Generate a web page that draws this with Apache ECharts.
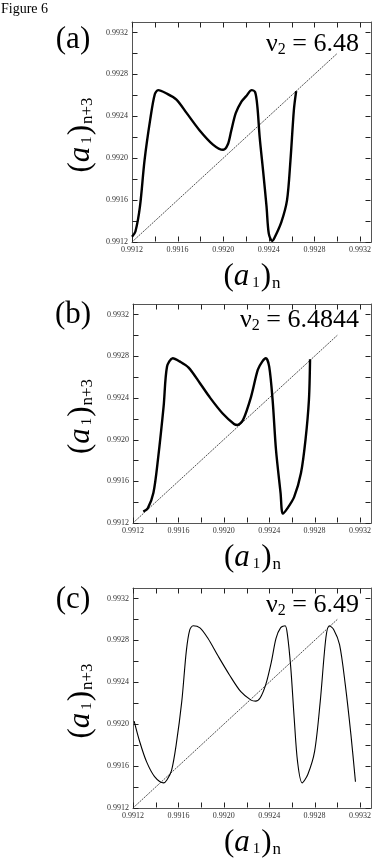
<!DOCTYPE html>
<html>
<head>
<meta charset="utf-8">
<title>Figure 6</title>
<script src="https://cdn.jsdelivr.net/npm/echarts@6/dist/echarts.min.js"></script>
<style>
  html, body { margin: 0; padding: 0; background: #fff; }
  #main { width: 374px; height: 863px; }
</style>
</head>
<body>
<div id="main"></div>
<script>
// axis range shared by the three panels
var tickMin = 0.9912;
var tickMax = 0.9933;
var tickStep = 0.0002;
// tick positions drawn on all four sides of each frame
var tickValues = [0.9912, 0.9914, 0.9916, 0.9918, 0.9920, 0.9922, 0.9924, 0.9926, 0.9928, 0.9930, 0.9932];

var panelLabels = ['(a)', '(b)', '(c)'];
var nuValues = ['6.48', '6.4844', '6.49'];

// diagonal (a1)n+3 = (a1)n
var diagX = [0.9912, 0.9930];
var diagY = [0.9912, 0.9930];

// panel (a)  nu2 = 6.48
var xA = [0.99120, 0.99123, 0.99127, 0.99131, 0.99136, 0.99140, 0.99143, 0.99150, 0.99159, 0.99168,
          0.99179, 0.99191, 0.99200, 0.99204, 0.99207, 0.99211, 0.99216, 0.99220, 0.99225, 0.99228,
          0.99230, 0.99232, 0.99235, 0.99238, 0.99240, 0.99243, 0.99245, 0.99251, 0.99256, 0.99259,
          0.99262, 0.99264];
var yA = [0.99125, 0.99130, 0.99154, 0.99198, 0.99237, 0.99261, 0.99265, 0.99262, 0.99256, 0.99243,
          0.99227, 0.99213, 0.99208, 0.99213, 0.99226, 0.99243, 0.99254, 0.99259, 0.99265, 0.99263,
          0.99249, 0.99220, 0.99188, 0.99154, 0.99128, 0.99121, 0.99124, 0.99139, 0.99160, 0.99198,
          0.99246, 0.99264];

// panel (b)  nu2 = 6.4844
var xB = [0.99129, 0.99133, 0.99138, 0.99142, 0.99147, 0.99150, 0.99155, 0.99161, 0.99169, 0.99179,
          0.99188, 0.99199, 0.99209, 0.99212, 0.99217, 0.99224, 0.99230, 0.99234, 0.99237, 0.99240,
          0.99243, 0.99246, 0.99250, 0.99252, 0.99256, 0.99262, 0.99268, 0.99272, 0.99275, 0.99276];
var yB = [0.99131, 0.99134, 0.99149, 0.99181, 0.99232, 0.99270, 0.99278, 0.99275, 0.99269, 0.99254,
          0.99240, 0.99225, 0.99215, 0.99214, 0.99219, 0.99241, 0.99267, 0.99275, 0.99278, 0.99270,
          0.99238, 0.99190, 0.99149, 0.99129, 0.99134, 0.99145, 0.99168, 0.99200, 0.99238, 0.99277];

// panel (c)  nu2 = 6.49
var xC = [0.99121, 0.99126, 0.99132, 0.99139, 0.99147, 0.99150, 0.99154, 0.99158, 0.99163, 0.99167,
          0.99170, 0.99173, 0.99179, 0.99186, 0.99195, 0.99205, 0.99215, 0.99224, 0.99228, 0.99232,
          0.99237, 0.99242, 0.99246, 0.99250, 0.99254, 0.99256, 0.99259, 0.99262, 0.99265, 0.99269,
          0.99274, 0.99280, 0.99285, 0.99290, 0.99293, 0.99297, 0.99302, 0.99307, 0.99312, 0.99316];
var yC = [0.99203, 0.99183, 0.99164, 0.99150, 0.99144, 0.99147, 0.99156, 0.99180, 0.99222, 0.99270,
          0.99290, 0.99294, 0.99292, 0.99282, 0.99265, 0.99247, 0.99231, 0.99223, 0.99222, 0.99225,
          0.99238, 0.99260, 0.99282, 0.99292, 0.99294, 0.99286, 0.99254, 0.99206, 0.99164, 0.99144,
          0.99152, 0.99174, 0.99222, 0.99283, 0.99294, 0.99290, 0.99276, 0.99238, 0.99190, 0.99145];

var curvesX = [xA, xB, xC];
var curvesY = [yA, yB, yC];
var curveWidth = [2.4, 2.4, 1.1];

var grids = [
  { left: 132, top: 22, width: 240, height: 220 },
  { left: 133, top: 304, width: 239, height: 219 },
  { left: 133, top: 588, width: 239, height: 220 }
];

var serif = '"Liberation Serif", "DejaVu Serif", serif';

function zip(xs, ys) {
  return xs.map(function (x, i) { return [x, ys[i]]; });
}

function tickLabel(v) {
  var r = (v - tickMin) / tickStep;
  var k = Math.round(r);
  if (Math.abs(r - k) > 0.01) return '';
  return k % 2 === 0 ? v.toFixed(4) : '';
}

var nameRich = {
  p: { fontSize: 31, fontFamily: serif, fill: '#000', lineHeight: 34 },
  a: { fontSize: 31, fontFamily: serif, fontStyle: 'italic', fill: '#000', lineHeight: 34, padding: [0, 3, 0, 0] },
  s: { fontSize: 15, fontFamily: serif, fill: '#000', padding: [12, 1, 0, 0] },
  n: { fontSize: 17, fontFamily: serif, fill: '#000', padding: [14, 0, 0, 1] }
};

function axis(gridIndex, position, labels) {
  return {
    type: 'value',
    gridIndex: gridIndex,
    position: position,
    min: tickMin,
    max: tickMax,
    interval: tickStep,
    axisLine: { show: true, onZero: false, lineStyle: { color: '#555' } },
    axisTick: { show: false },
    splitLine: { show: false },
    axisLabel: {
      show: labels,
      showMaxLabel: false,
      fontSize: 8,
      fontFamily: serif,
      color: '#333',
      margin: 4,
      formatter: tickLabel
    }
  };
}

// inward ticks on all four sides, placed through the panel's own axes
function renderTicks(params, api) {
  var v = api.value(0);
  var cs = params.coordSys;
  var px = Math.round(api.coord([v, tickMin])[0]) + 0.5;
  var py = Math.round(api.coord([tickMin, v])[1]) + 0.5;
  var x0 = Math.round(cs.x) + 0.5, x1 = Math.round(cs.x + cs.width) - 0.5;
  var y0 = Math.round(cs.y) + 0.5, y1 = Math.round(cs.y + cs.height) - 0.5;
  var st = { stroke: '#222', lineWidth: 1 };
  return {
    type: 'group',
    children: [
      { type: 'line', shape: { x1: px, y1: y1, x2: px, y2: y1 - 5 }, style: st },
      { type: 'line', shape: { x1: px, y1: y0, x2: px, y2: y0 + 5 }, style: st },
      { type: 'line', shape: { x1: x0, y1: py, x2: x0 + 5, y2: py }, style: st },
      { type: 'line', shape: { x1: x1, y1: py, x2: x1 - 5, y2: py }, style: st }
    ]
  };
}

var xAxes = [], yAxes = [], series = [];
for (var i = 0; i < 3; i++) {
  xAxes.push(axis(i, 'bottom', true));
  xAxes.push(axis(i, 'top', false));
  yAxes.push(axis(i, 'left', true));
  yAxes.push(axis(i, 'right', false));

  series.push({
    type: 'custom',
    xAxisIndex: 2 * i,
    yAxisIndex: 2 * i,
    data: tickValues.map(function (v) { return [v]; }),
    renderItem: renderTicks,
    silent: true,
    clip: false
  });
  series.push({
    type: 'line',
    xAxisIndex: 2 * i,
    yAxisIndex: 2 * i,
    data: zip(diagX, diagY),
    symbol: 'none',
    silent: true,
    lineStyle: { color: '#222', width: 0.8, type: [2, 1] }
  });
  series.push({
    type: 'line',
    xAxisIndex: 2 * i,
    yAxisIndex: 2 * i,
    data: zip(curvesX[i], curvesY[i]),
    symbol: 'none',
    smooth: 0.3,
    silent: true,
    lineStyle: { color: '#000', width: curveWidth[i] }
  });
}

var labelTop = [40, 315, 600];
var nuTop = [44, 320, 605];
var graphics = [{
  type: 'text',
  left: 1,
  top: 2,
  style: { text: 'Figure 6', font: '14px ' + serif, fill: '#000' }
}];
for (var j = 0; j < 3; j++) {
  var g = grids[j];
  graphics.push({
    type: 'text',
    x: 73,
    y: labelTop[j],
    style: { text: panelLabels[j], font: '31px ' + serif, fill: '#000', align: 'center', verticalAlign: 'middle' }
  });
  graphics.push({
    type: 'text',
    x: 359,
    y: nuTop[j],
    style: {
      text: '{b|ν}{s|2}{b| = ' + nuValues[j] + '}',
      align: 'right',
      verticalAlign: 'middle',
      rich: {
        b: { fontSize: 26, fontFamily: serif, fill: '#000', lineHeight: 30 },
        s: { fontSize: 16, fontFamily: serif, fill: '#000', padding: [12, 0, 0, 0] }
      }
    }
  });
  // axis titles
  graphics.push({
    type: 'text',
    x: g.left + g.width / 2,
    y: g.top + g.height + 35,
    style: {
      text: '{p|(}{a|a}{s|1}{p|)}{n|n}',
      align: 'center',
      verticalAlign: 'middle',
      rich: nameRich
    }
  });
  graphics.push({
    type: 'text',
    x: 81,
    y: g.top + g.height / 2 + 3,
    rotation: Math.PI / 2,
    style: {
      text: '{p|(}{a|a}{s|1}{p|)}{n|n+3}',
      align: 'center',
      verticalAlign: 'middle',
      rich: nameRich
    }
  });
}

var chart = echarts.init(document.getElementById('main'));
chart.setOption({
  animation: false,
  grid: grids,
  xAxis: xAxes,
  yAxis: yAxes,
  series: series,
  graphic: graphics
});
</script>
</body>
</html>
